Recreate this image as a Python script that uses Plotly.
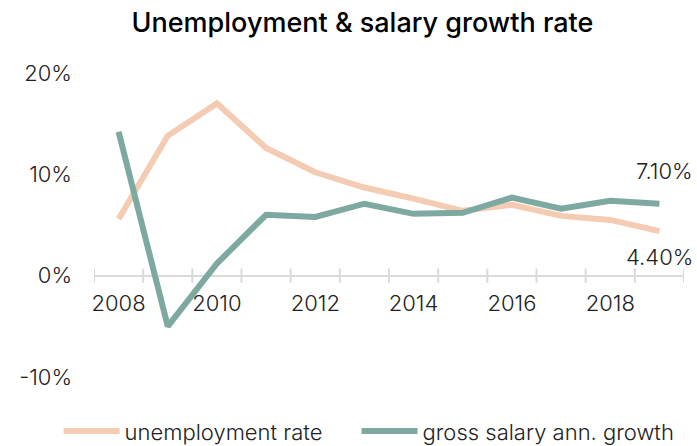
import plotly.graph_objects as go

# Annual series, 2008-2019 (percent)
years = list(range(2008, 2020))
unemployment_rate = [5.6, 13.8, 17.0, 12.6, 10.2, 8.7, 7.6, 6.4, 7.0, 5.9, 5.5, 4.4]
salary_growth = [14.2, -5.0, 1.2, 6.0, 5.8, 7.1, 6.1, 6.2, 7.7, 6.6, 7.4, 7.1]

year_ticks = [2008, 2010, 2012, 2014, 2016, 2018]
pct_ticks = [-10, 0, 10, 20]

SALMON = "#F4CCB3"
TEAL = "#7DA9A0"
AXIS_GREY = "#DADADA"
TEXT = "#222222"
FONT = "Inter"
LABEL_SIZE = 22

y_min, y_max = -10, 20

fig = go.Figure()
fig.add_trace(go.Scatter(
    x=years, y=unemployment_rate, mode="lines", name="unemployment rate",
    line=dict(color=SALMON, width=6), legend="legend",
))
fig.add_trace(go.Scatter(
    x=years, y=salary_growth, mode="lines", name="gross salary ann. growth",
    line=dict(color=TEAL, width=6), legend="legend2",
))

# tick marks crossing the zero line at the year boundaries
for b in [y - 0.5 for y in years] + [years[-1] + 0.5]:
    fig.add_shape(type="line", xref="x", yref="y", x0=b, x1=b, y0=-0.7, y1=0.7,
                  line=dict(color=AXIS_GREY, width=2), layer="below")

label_font = dict(size=LABEL_SIZE, color=TEXT, family=FONT, weight=300)

# end-of-series value labels
fig.add_annotation(x=years[-1], y=salary_growth[-1], text=f"{salary_growth[-1]:.2f}%",
                   showarrow=False, xanchor="right", yanchor="middle",
                   xshift=36, yshift=33, font=label_font)
fig.add_annotation(x=years[-1], y=unemployment_rate[-1], text=f"{unemployment_rate[-1]:.2f}%",
                   showarrow=False, xanchor="right", yanchor="middle",
                   xshift=36, yshift=-26, font=label_font)

legend_style = dict(orientation="h", y=-0.178, yanchor="middle", xanchor="left",
                    itemwidth=56, font=label_font, itemclick=False,
                    bgcolor="rgba(0,0,0,0)")

fig.update_layout(
    width=697, height=446,
    margin=dict(l=94, r=13, t=73, b=69, autoexpand=False),
    paper_bgcolor="white", plot_bgcolor="white",
    font=dict(family=FONT, color=TEXT, size=LABEL_SIZE),
    title=dict(text="Unemployment & salary growth rate", x=0.52, xanchor="center",
               y=0.95, yanchor="middle",
               font=dict(size=27, color="#000000", family=FONT, weight=500)),
    showlegend=True,
    legend=dict(x=-0.06, **legend_style),
    legend2=dict(x=0.445, **legend_style),
    xaxis=dict(
        range=[years[0] - 0.5, years[-1] + 0.5],
        tickvals=year_ticks, ticktext=[str(t) for t in year_ticks],
        anchor="free", position=(0 - y_min) / (y_max - y_min),
        showline=False, showgrid=False, zeroline=False, ticks="",
        ticklabelstandoff=12, tickfont=label_font,
    ),
    yaxis=dict(
        range=[y_min, y_max], tickvals=pct_ticks,
        ticktext=[f"{v}%" for v in pct_ticks],
        showgrid=False, showline=False, ticks="",
        zeroline=True, zerolinecolor=AXIS_GREY, zerolinewidth=2,
        ticklabelstandoff=21, tickfont=label_font,
    ),
)

fig.write_html("out.html")
